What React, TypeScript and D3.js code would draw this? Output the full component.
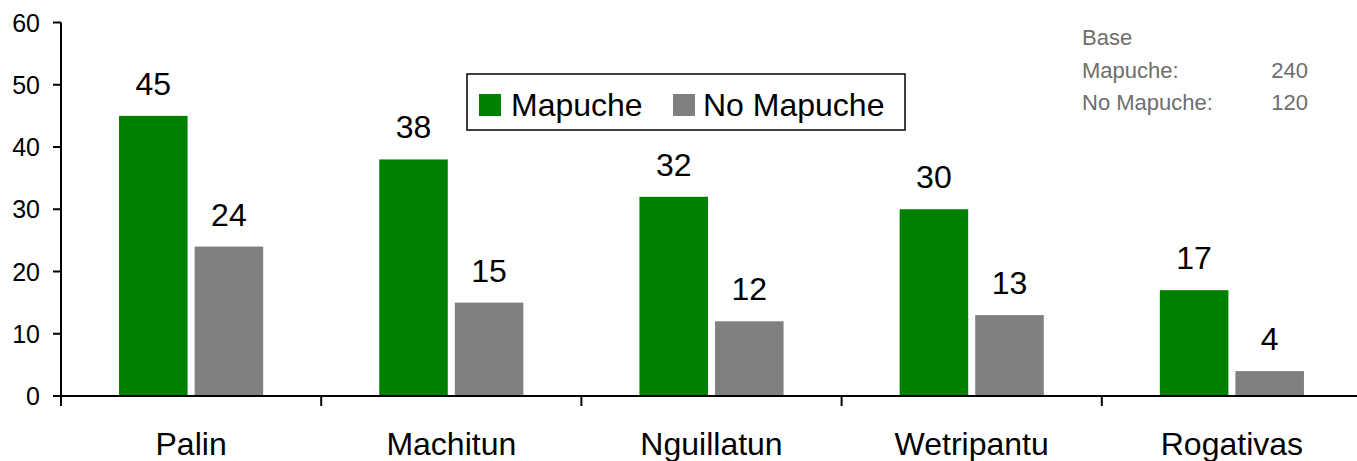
import React from "react";
import * as d3 from "d3";

const categories = ["Palin", "Machitun", "Nguillatun", "Wetripantu", "Rogativas"];
const seriesNames = ["Mapuche", "No Mapuche"];
const mapucheValues = [45, 38, 32, 30, 17];
const noMapucheValues = [24, 15, 12, 13, 4];
const yTicks = [0, 10, 20, 30, 40, 50, 60];
const baseTitle = "Base";
const baseLabels = ["Mapuche:", "No Mapuche:"];
const baseValues = [240, 120];

const W = 1357;
const H = 461;
const colors = ["#008000", "#808080"];
const FONT = "Arial, 'Liberation Sans', sans-serif";

export default function App() {
  const left = 61;
  const right = 1362;
  const y = d3.scaleLinear().domain([0, 60]).range([396, 22.5]);
  const x0 = d3.scaleBand<string>().domain(categories).range([left, right]).padding(0);
  const x1 = d3
    .scaleBand<string>()
    .domain(seriesNames)
    .range([0, x0.bandwidth()])
    .paddingInner(0.093)
    .paddingOuter(0.768);
  const seriesValues = [mapucheValues, noMapucheValues];
  const boundaries = categories.map((c) => x0(c) as number).concat([right]);

  return (
    <svg
      width={W}
      height={H}
      style={{ position: "absolute", left: 0, top: 0, background: "#fff" }}
      fontFamily={FONT}
    >
      <rect x={0} y={0} width={W} height={H} fill="#fff" />
      {/* bars */}
      {categories.map((c, i) => (
        <g key={c}>
          {seriesNames.map((s, j) => {
            const v = seriesValues[j][i];
            const bx = (x0(c) as number) + (x1(s) as number);
            return (
              <g key={s}>
                <rect
                  x={bx}
                  y={y(v)}
                  width={x1.bandwidth()}
                  height={y(0) - y(v)}
                  fill={colors[j]}
                />
                <text
                  x={bx + x1.bandwidth() / 2}
                  y={y(v) - 21}
                  textAnchor="middle"
                  fontSize={32}
                  fill="#000"
                >
                  {v}
                </text>
              </g>
            );
          })}
          <text
            x={(x0(c) as number) + x0.bandwidth() / 2}
            y={455}
            textAnchor="middle"
            fontSize={32}
            fill="#000"
          >
            {c}
          </text>
        </g>
      ))}
      {/* y axis */}
      <line x1={left} x2={left} y1={y(60)} y2={406} stroke="#000" strokeWidth={2} />
      {yTicks.map((t) => (
        <g key={t}>
          <line x1={53} x2={left} y1={y(t)} y2={y(t)} stroke="#000" strokeWidth={2} />
          <text x={40} y={y(t) + 9} textAnchor="end" fontSize={25} fill="#000">
            {t}
          </text>
        </g>
      ))}
      {/* x axis */}
      <line x1={left} x2={W} y1={y(0)} y2={y(0)} stroke="#000" strokeWidth={2} />
      {boundaries.map((b, i) => (
        <line key={i} x1={b} x2={b} y1={y(0)} y2={406} stroke="#000" strokeWidth={2} />
      ))}
      {/* legend */}
      <rect x={467} y={74} width={438} height={56} fill="#fff" stroke="#000" strokeWidth={1.5} />
      <rect x={479} y={94} width={22} height={22} fill={colors[0]} />
      <text x={511} y={116} fontSize={32} fill="#000">
        {seriesNames[0]}
      </text>
      <rect x={673} y={94} width={22} height={22} fill={colors[1]} />
      <text x={703} y={116} fontSize={32} fill="#000">
        {seriesNames[1]}
      </text>
      {/* base note */}
      <g fill="#6e6e6e" fontSize={22}>
        <text x={1082} y={45}>{baseTitle}</text>
        {baseLabels.map((l, i) => (
          <g key={l}>
            <text x={1082} y={78 + i * 32}>{l}</text>
            <text x={1308} y={78 + i * 32} textAnchor="end">
              {baseValues[i]}
            </text>
          </g>
        ))}
      </g>
    </svg>
  );
}
